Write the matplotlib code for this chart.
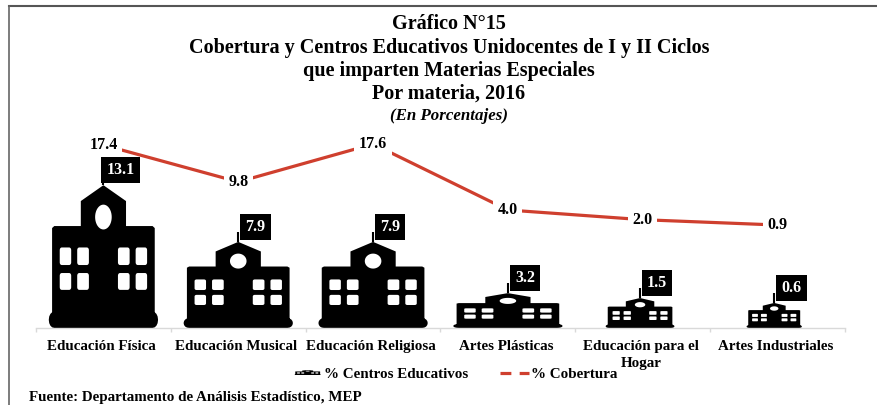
import numpy as np
import matplotlib
matplotlib.use("Agg")
import matplotlib.pyplot as plt
from matplotlib.lines import Line2D
from matplotlib.patches import PathPatch
from matplotlib.path import Path
from matplotlib.legend_handler import HandlerPatch
from matplotlib.ticker import FixedLocator
from matplotlib.transforms import ScaledTranslation

# ---- data ----
categories = ["Educación Física", "Educación Musical", "Educación Religiosa",
              "Artes Plásticas", "Educación para el\nHogar", "Artes Industriales"]
centros = [13.1, 7.9, 7.9, 3.2, 1.5, 0.6]
cobertura = [17.4, 9.8, 17.6, 4.0, 2.0, 0.9]
title_lines = ["Gráfico N°15",
               "Cobertura y Centros Educativos Unidocentes de I y II Ciclos",
               "que imparten Materias Especiales",
               "Por materia, 2016"]
subtitle = "(En Porcentajes)"
source = "Fuente: Departamento de Análisis Estadístico, MEP"
legend_labels = ["% Centros Educativos", "% Cobertura"]

# ---- icon drawing sizes as they appear in the reference (not data) ----
icon_heights = [13.1, 7.9, 7.9, 3.2, 2.75, 2.3]
icon_widths = [0.81, 0.81, 0.81, 0.81, 0.51, 0.41]
icon_shift = [0, 0, 0, 0, -0.02, -0.025]

W, H = 878, 405
RED = "#cf3f2e"
plt.rcParams["font.family"] = ["Liberation Serif", "DejaVu Serif"]
plt.rcParams["font.weight"] = "bold"


def rrect(x0, x1, y0, y1, rx=0.02, ry=0.02, n=5):
    pts = []
    corners = [(x1 - rx, y0 + ry, -90), (x1 - rx, y1 - ry, 0),
               (x0 + rx, y1 - ry, 90), (x0 + rx, y0 + ry, 180)]
    for cx, cy, a in corners:
        for t in np.radians(np.linspace(a, a + 90, n)):
            pts.append((cx + rx * np.cos(t), cy + ry * np.sin(t)))
    return pts


def subpath(pts, hole=False):
    pts = list(pts)
    if hole:
        pts = pts[::-1]
    verts = pts + [pts[0]]
    codes = [Path.MOVETO] + [Path.LINETO] * (len(pts) - 1) + [Path.CLOSEPOLY]
    return verts, codes


def building():
    """Unit glyph: x in [-0.5, 0.5], y in [0, 1]."""
    parts = [subpath(rrect(-0.5, 0.5, 0, 0.115, 0.05, 0.055))]
    body = [(-0.47, 0.05), (0.47, 0.05), (0.47, 0.70), (0.45, 0.714), (0.207, 0.714),
            (0.207, 0.889), (0.0, 1.0), (-0.207, 0.889), (-0.207, 0.714),
            (-0.45, 0.714), (-0.47, 0.70)]
    parts.append(subpath(body))
    t = np.linspace(0, 2 * np.pi, 40, endpoint=False)
    parts.append(subpath(list(zip(0.076 * np.cos(t), 0.777 + 0.087 * np.sin(t))), hole=True))
    for (y0, y1) in [(0.441, 0.564), (0.267, 0.385)]:
        for (x0, x1) in [(-0.40, -0.295), (-0.24, -0.133), (0.133, 0.24), (0.295, 0.40)]:
            parts.append(subpath(rrect(x0, x1, y0, y1, 0.018, 0.018), hole=True))
    parts.append(subpath([(-0.076, 0.12), (-0.076, 0.407), (0.076, 0.407), (0.076, 0.12)][::-1]))
    verts, codes = [], []
    for v, c in parts:
        verts += v
        codes += c
    return Path(np.array(verts, float), codes)


GLYPH = building()


def icon_patch(cx, w, h, **kw):
    v = GLYPH.vertices * [w, h] + [cx, 0]
    return PathPatch(Path(v, GLYPH.codes), fc="black", ec="none", **kw)


def fx(px):
    return px / W


def fy(px):
    return 1 - px / H


fig = plt.figure(figsize=(W / 100, H / 100), dpi=100, facecolor="white")

# axes spans the plotted band in pixels
left, right, top, base = 36, 845, 130, 328
ax = fig.add_axes([fx(left), fy(base), (right - left) / W, (base - top) / H])
ax.set_facecolor("none")
x = np.arange(len(categories))
ax.set_xlim(-0.5, len(categories) - 0.5)
ax.set_ylim(0, (base - top) / 10.9)

for i, (c, hgt) in enumerate(zip(centros, icon_heights)):
    cx = x[i] + icon_shift[i]
    ax.add_patch(icon_patch(cx, icon_widths[i], hgt))
    ax.plot([cx, cx], [hgt, hgt + 0.9], color="black", lw=1.5, solid_capstyle="butt")
    ax.annotate(f"{c:.1f}", xy=(cx, hgt), xytext=(17 * 0.72, 15 * 0.72),
                textcoords="offset points", ha="center", va="center",
                color="white", fontsize=11.5, fontweight="bold", zorder=6,
                bbox=dict(boxstyle="square,pad=0.33", fc="black", ec="none"))

for s in ["top", "left", "right"]:
    ax.spines[s].set_visible(False)
ax.spines["bottom"].set_color("#d9d9d9")
ax.spines["bottom"].set_linewidth(1)
ax.set_yticks([])
ax.set_xticks(x)
ax.set_xticklabels(categories, fontsize=10.85, fontweight="bold", linespacing=1.42)
ax.tick_params(axis="x", which="major", length=0, pad=8.5)
shift = ScaledTranslation(-2 / 100, 0, fig.dpi_scale_trans)
for lbl in ax.get_xticklabels():
    lbl.set_transform(lbl.get_transform() + shift)
ax.xaxis.set_minor_locator(FixedLocator(np.arange(-0.5, len(categories))))
ax.tick_params(axis="x", which="minor", length=3, color="#d9d9d9", width=1)

# line on its own hidden scale
ax2 = ax.twinx()
ax2.set_ylim((229.4 - base) / 4.85, (229.4 - top) / 4.85)
ax2.axis("off")
ax2.plot(x, cobertura, color=RED, lw=2.3, solid_capstyle="butt", zorder=3)
for xi, v in zip(x, cobertura):
    ax2.text(xi, v, f"{v:.1f}", ha="center", va="center", fontsize=11.5,
             fontweight="bold", color="black", zorder=5,
             bbox=dict(boxstyle="square,pad=0.28", fc="white", ec="none"))

# titles
for line, py in zip(title_lines, [24, 48, 71, 94]):
    fig.text(fx(449), fy(py), line, ha="center", va="center", fontsize=14.5,
             fontweight="bold", color="black")
fig.text(fx(449), fy(115.5), subtitle, ha="center", va="center", fontsize=12.2,
         fontweight="bold", fontstyle="italic", color="black")
fig.text(fx(29), fy(398), source, ha="left", va="center", fontsize=10.85,
         fontweight="bold", color="black")

# frame lines
fig.add_artist(Line2D([fx(9.5), 1], [fy(5.5), fy(5.5)], color="#555555", lw=1.5))
fig.add_artist(Line2D([fx(9.5), fx(9.5)], [fy(5.5), 0], color="#666666", lw=1.2))


# legend
class IconHandler(HandlerPatch):
    def create_artists(self, legend, orig_handle, xdescent, ydescent, width, height,
                       fontsize, trans):
        w = width * 0.9
        h = 5 * 0.72
        v = GLYPH.vertices * [w, h] + [width / 2 - xdescent, height / 2 - h / 2 - ydescent]
        p = PathPatch(Path(v, GLYPH.codes), fc="black", ec="none", transform=trans)
        return [p]


proxy = PathPatch(GLYPH, fc="black")
dash = Line2D([], [], color=RED, lw=2.3, linestyle=(0, (3.4, 2.6)))
leg = fig.legend([proxy, dash], legend_labels,
                 handler_map={proxy: IconHandler()},
                 loc="center left", bbox_to_anchor=(fx(293), fy(374)),
                 bbox_transform=fig.transFigure, ncol=2, frameon=False,
                 fontsize=10.85, borderpad=0, borderaxespad=0,
                 handlelength=1.95, handletextpad=0.1, columnspacing=2.1)
for t in leg.get_texts():
    t.set_fontweight("bold")

fig.savefig("out.png", dpi=100, facecolor="white")
